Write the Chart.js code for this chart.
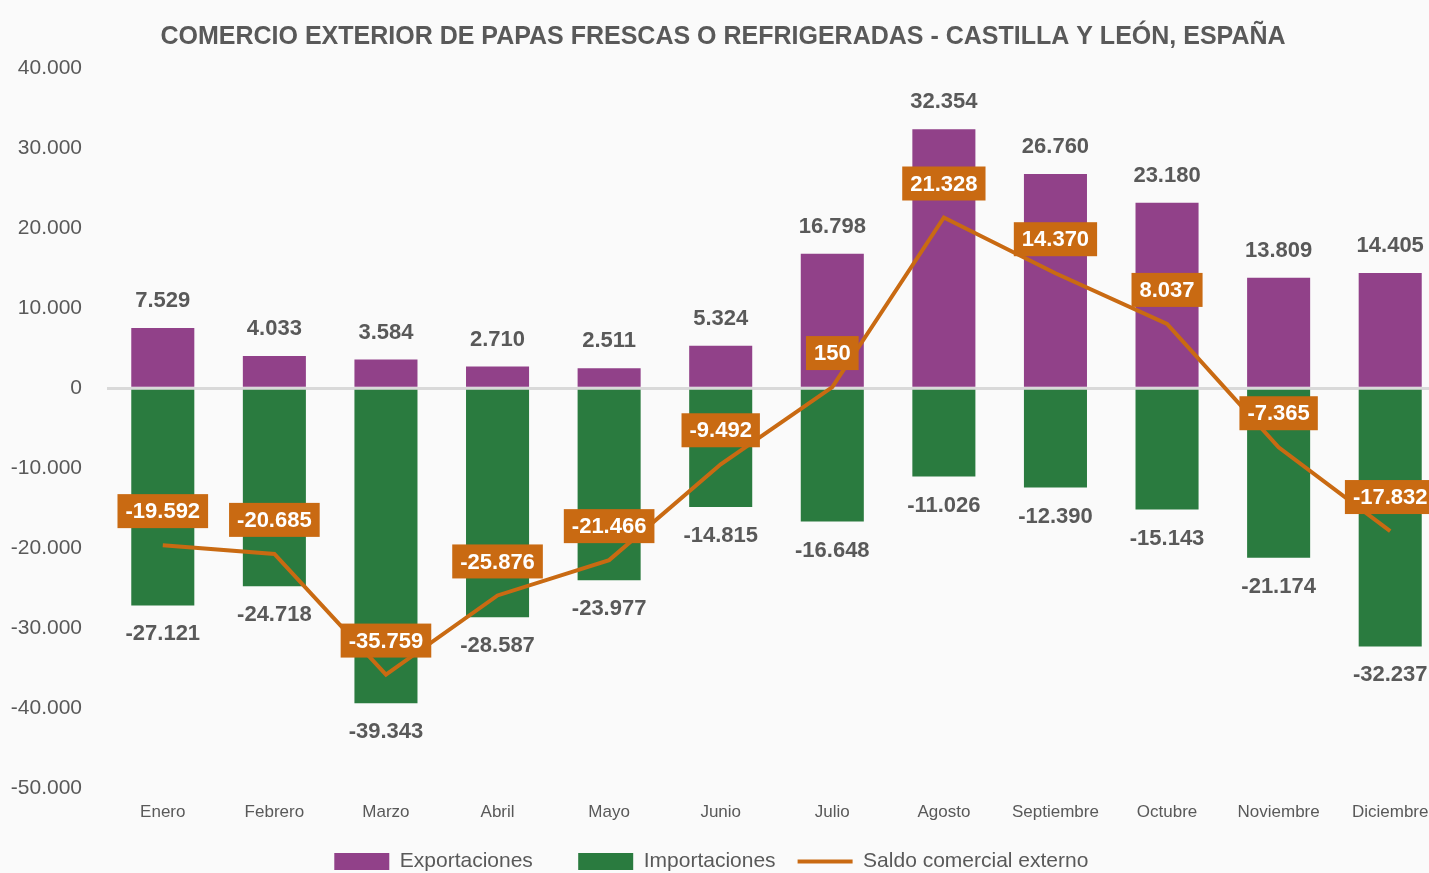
<!DOCTYPE html>
<html>
<head>
<meta charset="utf-8">
<script src="https://cdn.jsdelivr.net/npm/chart.js@4.4.0/dist/chart.umd.min.js"></script>
<style>
  html, body { margin: 0; padding: 0; background: #fafafa; overflow: hidden; }
  #wrap { width: 1450px; height: 882px; }
</style>
</head>
<body>
<div id="wrap"><canvas id="comercio"></canvas></div>
<script>
const meses = ['Enero', 'Febrero', 'Marzo', 'Abril', 'Mayo', 'Junio', 'Julio',
    'Agosto', 'Septiembre', 'Octubre', 'Noviembre', 'Diciembre'];
const exportaciones = [7529, 4033, 3584, 2710, 2511, 5324, 16798, 32354, 26760, 23180, 13809, 14405];
const importaciones = [-27121, -24718, -39343, -28587, -23977, -14815, -16648, -11026, -12390, -15143, -21174, -32237];
const saldo = [-19592, -20685, -35759, -25876, -21466, -9492, 150, 21328, 14370, 8037, -7365, -17832];

const morado = '#914189';
const verde = '#2a7b3f';
const naranja = '#c96a12';
const gris = '#595959';
const fuente = '"Liberation Sans Narrow", "Arial Narrow", "Liberation Sans", sans-serif';

// separador de miles con punto
function fmt(v) {
    const s = Math.abs(Math.round(v)).toString().replace(/\B(?=(\d{3})+(?!\d))/g, '.');
    return (v < 0 ? '-' : '') + s;
}

const etiquetas = {
    id: 'etiquetas',
    afterDraw(chart) {
        const ctx = chart.ctx;
        ctx.save();
        ctx.textAlign = 'center';
        ctx.textBaseline = 'middle';
        ctx.font = 'bold 22px ' + fuente;
        ctx.fillStyle = gris;
        chart.getDatasetMeta(0).data.forEach((bar, i) => {
            ctx.fillText(fmt(exportaciones[i]), bar.x, bar.y - 27);
        });
        chart.getDatasetMeta(1).data.forEach((bar, i) => {
            ctx.fillText(fmt(importaciones[i]), bar.x, bar.y + 29);
        });
        chart.getDatasetMeta(2).data.forEach((pt, i) => {
            const txt = fmt(saldo[i]);
            const w = ctx.measureText(txt).width + 16;
            const h = 34;
            const cy = pt.y - 34;
            ctx.fillStyle = naranja;
            ctx.fillRect(pt.x - w / 2, cy - h / 2, w, h);
            ctx.fillStyle = '#ffffff';
            ctx.fillText(txt, pt.x, cy + 1);
        });
        ctx.restore();
    }
};

new Chart(document.getElementById('comercio'), {
    data: {
        labels: meses,
        datasets: [
            {
                type: 'bar',
                label: 'Exportaciones',
                data: exportaciones,
                backgroundColor: morado,
                borderWidth: 0,
                stack: 'comercio',
                order: 1,
                pointStyle: 'rect'
            },
            {
                type: 'bar',
                label: 'Importaciones',
                data: importaciones,
                backgroundColor: verde,
                borderWidth: 0,
                stack: 'comercio',
                order: 1,
                pointStyle: 'rect'
            },
            {
                type: 'line',
                label: 'Saldo comercial externo',
                data: saldo,
                borderColor: naranja,
                backgroundColor: naranja,
                borderWidth: 4,
                pointRadius: 0,
                tension: 0,
                stack: 'saldo',
                order: 0,
                pointStyle: 'line'
            }
        ]
    },
    options: {
        responsive: true,
        maintainAspectRatio: false,
        animation: false,
        layout: { padding: { left: 0, right: 4, top: 0, bottom: 0 } },
        datasets: {
            bar: { barPercentage: 0.565, categoryPercentage: 1 }
        },
        scales: {
            x: {
                stacked: true,
                grid: { display: false },
                border: { display: false },
                ticks: { color: gris, font: { family: fuente, size: 17 }, padding: 6, maxRotation: 0 }
            },
            y: {
                stacked: true,
                min: -50000,
                max: 40000,
                z: 1,
                afterFit: scale => { scale.width = 107; },
                border: { display: false },
                grid: {
                    drawTicks: false,
                    color: c => c.tick && c.tick.value === 0 ? '#d9d9d9' : 'rgba(0,0,0,0)',
                    lineWidth: 3
                },
                ticks: {
                    stepSize: 10000,
                    color: gris,
                    padding: 25,
                    font: { family: fuente, size: 21 },
                    callback: v => fmt(v)
                }
            }
        },
        plugins: {
            title: {
                display: true,
                text: 'COMERCIO EXTERIOR DE PAPAS FRESCAS O REFRIGERADAS - CASTILLA Y LEÓN, ESPAÑA',
                color: gris,
                font: { family: fuente, size: 25, weight: 'bold' },
                padding: { top: 22, bottom: 16 }
            },
            legend: {
                position: 'bottom',
                labels: {
                    usePointStyle: true,
                    pointStyleWidth: 55,
                    boxHeight: 17,
                    color: gris,
                    padding: 22,
                    font: { family: fuente, size: 21 },
                    sort: (a, b) => a.datasetIndex - b.datasetIndex,
                    generateLabels: chart => {
                        const items = Chart.defaults.plugins.legend.labels.generateLabels(chart);
                        items.forEach((it, i) => { if (i < items.length - 1) it.text = it.text + '    '; });
                        return items;
                    }
                }
            },
            tooltip: { enabled: false }
        }
    },
    plugins: [etiquetas]
});
</script>
</body>
</html>
